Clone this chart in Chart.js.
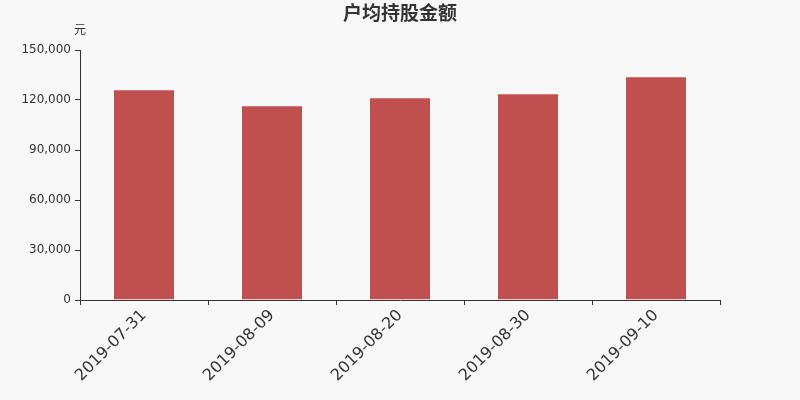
<!DOCTYPE html>
<html>
<head>
<meta charset="utf-8">
<script src="https://cdn.jsdelivr.net/npm/chart.js@4"></script>
<style>
  html, body { margin: 0; padding: 0; background: #f8f8f8; }
  #wrap { width: 800px; height: 400px; }
</style>
</head>
<body>
<div id="wrap"><canvas id="holding-chart"></canvas></div>
<script>
const dates = ['2019-07-31', '2019-08-09', '2019-08-20', '2019-08-30', '2019-09-10'];
const amounts = [126000, 116400, 121200, 123600, 133800];
const yTicks = [0, 30000, 60000, 90000, 120000, 150000];

const chartTitle = '户均持股金额';
const unitLabel = '元';

const headerText = {
  id: 'headerText',
  afterDraw(chart) {
    const ctx = chart.ctx;
    const area = chart.chartArea;
    ctx.save();
    ctx.fillStyle = '#333';
    ctx.textAlign = 'center';
    ctx.textBaseline = 'middle';
    ctx.font = 'bold 19px "Noto Sans CJK SC", sans-serif';
    ctx.fillText(chartTitle, chart.width / 2, 13);
    ctx.font = '12px "Noto Sans CJK SC", sans-serif';
    ctx.fillText(unitLabel, area.left, 29);
    ctx.restore();
  },
};

const canvas = document.getElementById('holding-chart');
new Chart(canvas, {
  type: 'bar',
  data: {
    labels: dates,
    datasets: [
      {
        data: amounts,
        backgroundColor: '#c0504f',
        borderColor: '#d77a78',
        borderWidth: { top: 1, left: 0, right: 0, bottom: 0 },
        barPercentage: 0.47,
        categoryPercentage: 1,
      },
    ],
  },
  options: {
    responsive: true,
    maintainAspectRatio: false,
    animation: false,
    layout: {
      padding: { top: 50, right: 80, left: 0, bottom: 0 },
    },
    plugins: {
      legend: { display: false },
      tooltip: { enabled: false },
    },
    scales: {
      x: {
        offset: true,
        afterFit: (scale) => { scale.height = 100; },
        grid: {
          offset: true,
          drawOnChartArea: false,
          drawTicks: true,
          tickLength: 5,
          color: '#333',
        },
        border: { display: true, color: '#333' },
        ticks: {
          color: '#333',
          minRotation: 45,
          maxRotation: 45,
          padding: 1,
          font: { family: '"DejaVu Sans", sans-serif', size: 16 },
        },
      },
      y: {
        min: 0,
        max: 150000,
        afterFit: (scale) => { scale.width = 80; },
        afterBuildTicks: (scale) => {
          scale.ticks = yTicks.map((v) => ({ value: v }));
        },
        grid: {
          drawOnChartArea: false,
          drawTicks: true,
          tickLength: 5,
          color: '#333',
        },
        border: { display: true, color: '#333' },
        ticks: {
          color: '#333',
          padding: 4,
          font: { family: '"DejaVu Sans", sans-serif', size: 12 },
          callback: (v) => v.toLocaleString('en-US'),
        },
      },
    },
  },
  plugins: [headerText],
});
</script>
</body>
</html>
